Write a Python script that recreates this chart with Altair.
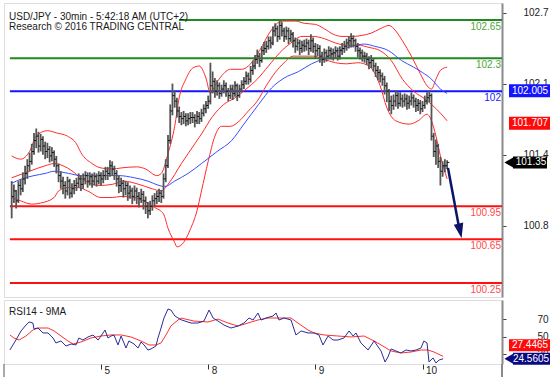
import altair as alt
import pandas as pd

# ---------------- data ----------------
close = [101.04,101.09,101.00,101.14,101.11, 101.20,101.25,101.32,101.36,101.45, 101.55,101.59,101.50,101.56,
         101.50,101.45,101.47,101.41,101.44, 101.38,101.32,101.23,101.18, 101.14,101.09,101.18,101.07,101.11,
         101.14,101.16,101.20,101.15, 101.20,101.23,101.18,101.22,101.18, 101.22,101.18,101.23,101.20,
         101.23,101.27,101.25,101.32,101.29, 101.25,101.20,101.14,101.16, 101.11,101.14,101.07,101.09,101.04,
         101.09,101.04,101.02,101.06, 101.00,100.95,100.91,100.95,101.00, 101.02,101.04,101.07,101.04,
         101.20,101.32, 101.55,101.82,101.96, 101.91,101.82,101.77, 101.75,101.77,101.73,101.75,101.76,
         101.76,101.73,101.77,101.75,101.80, 101.84,101.87,101.91,102.05, 102.09,102.00,102.05,101.98,102.02,
         102.05,102.00,101.96,102.02, 101.98,102.05,101.96,102.02,102.06, 102.09,102.14,102.11,102.19,
         102.23,102.29,102.32,102.28,102.37, 102.39,102.41,102.46,102.44, 102.55,102.57,102.50,102.60,102.55,
         102.50,102.55,102.48,102.52, 102.46,102.41,102.44,102.39,102.42, 102.41,102.44,102.39,102.46,
         102.41,102.37,102.39,102.32,102.29, 102.35,102.32,102.37,102.34, 102.35,102.37,102.32,102.37,102.39,
         102.41,102.44,102.46,102.48, 102.46,102.41,102.37,102.35,102.32, 102.32,102.29,102.26,102.28,
         102.23,102.19,102.17,102.14,102.11, 102.05,102.00,101.91,101.87, 101.91,101.96,101.89,101.93,101.91,
         101.93,101.89,101.91,101.94, 101.91,101.87,101.89,101.84,101.87, 101.91,101.94,101.96, 101.59,
         101.45,101.50,101.36, 101.27,101.32, 101.32,101.35]
high = [101.18,101.15,101.10,101.18,101.20, 101.26,101.32,101.38,101.44,101.52, 101.62,101.66,101.63,101.61,
        101.59,101.54,101.53,101.50,101.49, 101.46,101.41,101.34,101.27, 101.22,101.18,101.22,101.20,101.16,
        101.19,101.21,101.25,101.23, 101.25,101.27,101.26,101.26,101.25, 101.26,101.25,101.27,101.26,
        101.28,101.31,101.31,101.37,101.36, 101.32,101.28,101.23,101.21, 101.19,101.18,101.17,101.14,101.12,
        101.14,101.12,101.08,101.11, 101.09,101.04,100.99,101.00,101.05, 101.07,101.09,101.11,101.10,
        101.25,101.38, 101.60,101.88,102.07, 102.00,101.94,101.86, 101.81,101.82,101.80,101.80,101.81,
        101.81,101.79,101.82,101.81,101.84, 101.88,101.91,101.96,102.26, 102.18,102.12,102.10,102.08,102.06,
        102.10,102.08,102.03,102.06, 102.06,102.09,102.07,102.06,102.10, 102.13,102.18,102.17,102.23,
        102.28,102.33,102.38,102.35,102.41, 102.45,102.46,102.50,102.50, 102.59,102.62,102.60,102.64,102.63,
        102.58,102.59,102.58,102.56, 102.54,102.49,102.48,102.47,102.46, 102.47,102.48,102.47,102.52,
        102.49,102.44,102.43,102.42,102.36, 102.39,102.38,102.41,102.40, 102.39,102.41,102.40,102.41,102.44,
        102.46,102.48,102.50,102.53, 102.51,102.48,102.44,102.40,102.38, 102.36,102.35,102.32,102.33,
        102.30,102.26,102.23,102.20,102.17, 102.14,102.08,102.02,101.96, 101.97,102.01,101.99,101.99,101.97,
        101.98,101.97,101.96,101.99, 101.97,101.94,101.93,101.92,101.91, 101.96,101.99,102.01, 101.98,
        101.62,101.56,101.52, 101.40,101.36, 101.38,101.37]
low = [100.84,100.98,100.93,100.98,101.05, 101.08,101.15,101.20,101.27,101.33, 101.42,101.48,101.44,101.45,
       101.42,101.38,101.39,101.35,101.36, 101.31,101.25,101.17,101.11, 101.06,101.02,101.05,101.02,101.03,
       101.06,101.09,101.12,101.09, 101.11,101.15,101.12,101.14,101.12, 101.14,101.13,101.15,101.14,
       101.16,101.19,101.19,101.22,101.23, 101.19,101.13,101.07,101.08, 101.03,101.05,101.00,101.02,100.97,
       101.00,100.97,100.94,100.98, 100.92,100.88,100.84,100.87,100.91, 100.95,100.97,100.99,100.98,
       101.02,101.17, 101.30,101.52,101.78, 101.85,101.76,101.71, 101.69,101.70,101.68,101.69,101.70,
       101.71,101.67,101.70,101.70,101.72, 101.77,101.80,101.84,101.88, 101.98,101.94,101.96,101.93,101.95,
       101.98,101.95,101.91,101.93, 101.92,101.95,101.91,101.94,101.99, 102.02,102.06,102.06,102.08,
       102.15,102.20,102.25,102.22,102.26, 102.33,102.35,102.38,102.39, 102.42,102.50,102.45,102.47,102.50,
       102.45,102.47,102.43,102.45, 102.40,102.35,102.37,102.33,102.35, 102.36,102.37,102.33,102.36,
       102.35,102.30,102.32,102.26,102.23, 102.26,102.27,102.29,102.29, 102.28,102.30,102.28,102.29,102.33,
       102.35,102.37,102.39,102.40, 102.40,102.36,102.31,102.29,102.27, 102.26,102.24,102.20,102.21,
       102.18,102.13,102.10,102.08,102.05, 101.97,101.90,101.82,101.79, 101.83,101.86,101.84,101.86,101.85,
       101.86,101.83,101.84,101.87, 101.85,101.81,101.82,101.79,101.81, 101.84,101.88,101.90, 101.55,
       101.40,101.33,101.30, 101.14,101.22, 101.26,101.29]
first_bar_t = -40   # bars are half-hours; t = 0 is midnight of the 5th

ub_t = [-40,-36,-32,-29,-24,-20,-15,-11,-9,-4,0,5,9,16,20,25,27,30,33,35,38,41,44,47,49,51,54,58,63,67,
        71,76,79,82,87,91,96,100,104,108,113,117,121,125,129,132,135,139,143,146,148,150,152,155]
ub_p = [101.41,101.38,101.45,101.59,101.64,101.62,101.59,101.52,101.44,101.34,101.30,101.29,101.30,101.31,
        101.29,101.23,101.25,101.43,101.68,101.94,102.11,102.21,102.23,102.12,101.98,102.05,102.14,102.20,
        102.20,102.25,102.37,102.55,102.62,102.64,102.64,102.62,102.61,102.57,102.52,102.50,102.50,102.51,
        102.53,102.57,102.60,102.55,102.46,102.32,102.16,102.05,102.02,102.11,102.19,102.22]
mb_t = [-40,-32,-25,-21,-15,-7,-1,5,10,17,23,27,30,36,42,45,50,55,60,65,70,75,80,85,90,95,100,105,110,115,
        120,125,130,135,140,145,148,152,155]
mb_p = [101.21,101.27,101.32,101.34,101.30,101.18,101.14,101.15,101.18,101.15,101.11,101.09,101.15,101.34,
        101.52,101.61,101.77,101.88,101.94,102.02,102.11,102.23,102.35,102.44,102.50,102.50,102.48,102.44,
        102.42,102.42,102.40,102.37,102.28,102.11,102.00,101.93,101.88,101.80,101.73]
lb_t = [-40,-36,-31,-27,-21,-19,-15,-10,-6,0,5,9,15,19,24,28,30,33,34,37,40,43,45,48,51,54,58,62,66,70,
        74,78,82,86,90,95,100,105,110,115,120,125,128,132,138,142,146,148,150,152,155]
lb_p = [101.03,101.00,100.97,100.98,101.03,101.09,101.12,101.12,101.09,101.03,101.03,101.04,101.03,101.00,
        100.94,100.88,100.75,100.62,100.58,100.62,100.74,100.91,101.09,101.36,101.59,101.68,101.68,101.73,
        101.82,101.91,102.05,102.17,102.26,102.32,102.32,102.32,102.29,102.26,102.25,102.26,102.23,102.05,
        101.85,101.73,101.70,101.73,101.79,101.73,101.59,101.41,101.20]
ma_t = [-40,-35.5,-30,-25,-21,-14.5,-9,0,8,15,21,26,28.5,33,39,45,52,58.5,64,70.6,76.4,82,88.5,94.3,100,
        106.4,112.3,118,122.6,128.8,134.6,140,144,148,152,155]
ma_p = [101.16,101.20,101.23,101.25,101.27,101.25,101.23,101.23,101.23,101.21,101.18,101.14,101.13,101.18,
        101.25,101.34,101.45,101.55,101.70,101.88,102.03,102.12,102.18,102.25,102.30,102.37,102.41,102.43,
        102.41,102.37,102.28,102.22,102.17,102.11,102.02,101.98]

rsi_t = [-40.8,-38.1,-35.8,-33.6,-32.2,-30.5,-30.0,-28.2,-26.0,-23.7,-21.5,-20.2,-17.9,-15.7,-13.4,-11.2,
         -9.9,-8.1,-5.8,-3.6,-1.3,0,1.8,3.1,4.5,5.8,7.6,9.0,11.2,12.5,14.8,16.6,17.9,19.3,21.0,22.4,24.6,
         25.5,26.9,28.2,30.0,31.3,33.1,35.8,40.3,43.4,46.1,48.4,50.2,52.4,55.1,58.2,61.4,64.0,66.3,68.1,
         70.3,71.7,73.9,77.0,78.4,79.7,82.0,85.1,87.3,89.6,92.7,95.4,97.6,99.4,101.7,103.9,106.1,108.8,
         111.1,112.9,114.2,116.4,119.6,122.3,125.4,127.2,128.5,129.9,132.1,134.3,136.6,138.8,141.1,143.3,
         144.6,146.0,146.9,148.7,150.0,151.4,153.2]
rsi_v = [34.7,46.2,56.6,63.4,66.9,65.7,58.9,60.0,54.3,54.3,48.5,42.8,45.1,39.3,41.6,40.5,48.5,46.2,49.7,
         52.0,46.2,50.8,57.7,48.5,50.8,52.0,40.5,50.8,37.0,45.1,41.6,37.0,43.9,40.5,34.7,35.9,39.3,48.5,
         60.0,71.5,81.8,80.7,73.8,69.5,65.7,65.7,68.0,80.7,71.5,68.0,63.4,60.0,62.3,65.7,71.5,69.2,77.2,
         69.2,71.5,73.8,77.2,69.2,71.5,69.2,52.0,56.6,54.3,54.3,52.0,40.5,50.8,46.2,46.2,48.5,56.6,50.8,
         54.3,42.8,34.7,45.1,33.6,20.9,26.7,35.9,33.6,31.3,34.7,33.6,34.7,37.0,45.1,42.8,20.9,25.6,19.8,
         23.2,24.56]
rsima_t = [-40.8,-39.0,-36.7,-33.6,-30.5,-28.2,-23.7,-21.0,-17.9,-14.8,-12.5,-9.0,-4.5,0,4.5,9.0,13.4,17.9,
           21.5,24.6,26.9,29.1,31.3,34.5,35.8,41.6,47.9,52.4,56.9,61.4,65.8,70.3,74.8,80.6,85.1,88.2,92.7,
           95.4,99.9,106.1,112.0,117.8,122.3,125.4,129.9,134.3,138.8,143.3,146.4,149.1,153.2]
rsima_v = [52.0,48.5,46.2,50.8,57.7,60.0,60.0,56.6,50.8,45.1,41.6,43.9,48.5,50.8,52.0,52.0,49.7,45.1,40.5,
           40.5,42.8,52.0,62.3,69.2,71.5,68.0,66.9,70.3,65.7,62.3,65.7,69.2,71.5,71.5,71.5,65.7,57.7,54.3,
           52.0,50.8,49.7,50.8,45.1,40.5,33.6,31.3,32.4,34.7,34.7,32.4,27.45]

levels = [102.65, 102.3, 102.0, 100.95, 100.65, 100.25]
level_labels = ["102.65", "102.3", "102", "100.95", "100.65", "100.25"]
level_start = [34.9, -40.8, -40.8, -40.8, -40.8, -40.8]
level_colors = ["#1f8a1f", "#1f8a1f", "#1414ff", "#ff1010", "#ff1010", "#ff1010"]
level_text_colors = ["#4fa53a", "#4fa53a", "#2020ff", "#ff4a4a", "#ff4a4a", "#ff4a4a"]

arrow_t = [155.4, 160.6]
arrow_p = [101.30, 100.73]
arrow_head_t = [160.8]
arrow_head_p = [100.725]

price_boxes = [102.005, 101.707]
price_box_labels = ["102.005", "101.707"]
price_box_colors = ["#1414ff", "#ff0a0a"]
last_price = [101.35]
last_price_label = ["101.35"]
rsi_last = [27.4465, 24.5605]
rsi_last_labels = ["27.4465", "24.5605"]

day_ticks = [0, 48, 96, 144]
day_labels = ["5", "8", "9", "10"]
price_ticks = [102.715, 102.068, 101.421, 100.774]
rsi_ticks = [70, 50, 30]

title1 = "USD/JPY - 30min - 5:42:18 AM (UTC+2)"
title2 = "Research \u00a9 2016 TRADING CENTRAL"
rsi_title = "RSI14 - 9MA"

# ---------------- build ----------------
FONT = "Liberation Sans"
W, H1, H2 = 498, 294, 64
xs = alt.Scale(domain=[-43.44, 179.58], nice=False, zero=False)
ys = alt.Scale(domain=[100.1225, 102.805], nice=False, zero=False)
rs = alt.Scale(domain=[18.6, 92.2], nice=False, zero=False)

y_axis = alt.Axis(orient="right", values=price_ticks, labelExpr="format(datum.value, '.1f')",
                  tickSize=4, tickColor="#444", domainColor="#8a8a8a", domainWidth=2,
                  labelColor="#222", labelFontSize=10, labelFont=FONT, labelAlign="right",
                  labelPadding=42, labelBaseline="middle", grid=False, title=None)
r_axis = alt.Axis(orient="right", values=rsi_ticks, tickSize=4, tickColor="#444",
                  domainColor="#8a8a8a", domainWidth=2, labelColor="#222", labelFontSize=10,
                  labelFont=FONT, labelAlign="right", labelPadding=42, labelBaseline="middle",
                  grid=False, title=None)
expr = " : ".join(f"datum.value == {v} ? '{l}'" for v, l in zip(day_ticks[:-1], day_labels[:-1]))
expr += f" : '{day_labels[-1]}'"
x_axis = alt.Axis(orient="bottom", values=day_ticks, labelExpr=expr, tickSize=5, tickColor="#333",
                  domain=False, labelAlign="left", labelOffset=3, labelPadding=-4,
                  labelBaseline="top", labelFontSize=10, labelFont=FONT, labelColor="#222",
                  grid=False, title=None)

bars = pd.DataFrame({"close": close, "high": high, "low": low})
bars["t"] = bars.index + first_bar_t

def line_df(t, v):
    return pd.DataFrame({"t": t, "v": v})

X = lambda f="t": alt.X(f"{f}:Q", scale=xs, axis=None)
Y = lambda f: alt.Y(f"{f}:Q", scale=ys, axis=y_axis)

lev = pd.DataFrame({"level": levels, "label": level_labels, "start": level_start,
                    "c": level_colors, "tc": level_text_colors})
lev_rules = alt.Chart(lev).mark_rule(strokeWidth=2).encode(
    x=X("start"), x2=alt.value(W), y=Y("level"), color=alt.Color("c:N", scale=None))
lev_text = alt.Chart(lev).mark_text(align="right", baseline="top", dy=2, fontSize=10, font=FONT).encode(
    x=alt.value(497), y=Y("level"), text="label:N", color=alt.Color("tc:N", scale=None))

bar_rule = alt.Chart(bars).mark_rule(color="#555555", strokeWidth=1.8).encode(
    x=X(), y=Y("low"), y2="high:Q")
bar_close = alt.Chart(bars).mark_rule(color="#111111", strokeWidth=1, x2Offset=2.2).encode(
    x=X(), x2="t:Q", y=Y("close"))

def band(t, v, color):
    return alt.Chart(line_df(t, v)).mark_line(color=color, strokeWidth=1, interpolate="monotone").encode(
        x=X(), y=Y("v"))

ub = band(ub_t, ub_p, "#ff2a2a")
mb = band(mb_t, mb_p, "#ff2a2a")
lb = band(lb_t, lb_p, "#ff2a2a")
ma = band(ma_t, ma_p, "#3a4cff")

arrow_line = alt.Chart(line_df(arrow_t, arrow_p)).mark_line(color="#0c1466", strokeWidth=2.5).encode(
    x=X(), y=Y("v"))
arrow_head = alt.Chart(line_df(arrow_head_t, arrow_head_p)).mark_point(
    shape="M-0.45,-0.7L0.45,-0.7L0,0.7Z", filled=True, color="#0c1466", opacity=1,
    size=460, angle=348).encode(x=X(), y=Y("v"))

pb = pd.DataFrame({"v": price_boxes, "label": price_box_labels, "c": price_box_colors})
pb_rect = alt.Chart(pb).mark_rect(yOffset=-6.5, y2Offset=6.5).encode(
    x=alt.value(505), x2=alt.value(546), y=Y("v"), y2="v:Q", color=alt.Color("c:N", scale=None))
pb_text = alt.Chart(pb).mark_text(color="white", fontSize=10, font=FONT, align="center",
                                  baseline="middle").encode(x=alt.value(526), y=Y("v"), text="label:N")
lp = pd.DataFrame({"v": last_price, "label": last_price_label})
lp_rect = alt.Chart(lp).mark_rect(yOffset=-6, y2Offset=6, color="#000000").encode(
    x=alt.value(509), x2=alt.value(543), y=Y("v"), y2="v:Q")
lp_tri = alt.Chart(lp).mark_point(shape="triangle-left", filled=True, color="#000000", opacity=1,
                                  size=110).encode(x=alt.value(505), y=Y("v"))
lp_text = alt.Chart(lp).mark_text(color="white", fontSize=10, font=FONT, align="center",
                                  baseline="middle").encode(x=alt.value(527), y=Y("v"), text="label:N")

tdf = pd.DataFrame({"a": [title1], "b": [title2]})
t1 = alt.Chart(tdf).mark_text(align="left", fontSize=10, font=FONT, color="#1a1a1a").encode(
    x=alt.value(5), y=alt.value(14), text="a:N")
t2 = alt.Chart(tdf).mark_text(align="left", fontSize=10, font=FONT, color="#1a1a1a").encode(
    x=alt.value(5), y=alt.value(24), text="b:N")

main = alt.layer(lev_rules, lev_text, ub, mb, lb, ma, bar_rule, bar_close, arrow_line, arrow_head,
                 pb_rect, pb_text, lp_rect, lp_tri, lp_text, t1, t2).properties(width=W, height=H1)

# RSI panel
XR = lambda f="t": alt.X(f"{f}:Q", scale=xs, axis=x_axis)
YR = lambda f: alt.Y(f"{f}:Q", scale=rs, axis=r_axis)
rsi_line = alt.Chart(line_df(rsi_t, rsi_v)).mark_line(color="#2c2c98", strokeWidth=1).encode(
    x=XR(), y=YR("v"))
rsima_line = alt.Chart(line_df(rsima_t, rsima_v)).mark_line(color="#ff3030", strokeWidth=1).encode(
    x=XR(), y=YR("v"))
rb = pd.DataFrame({"v": rsi_last, "label": rsi_last_labels})
r_red = alt.Chart(rb.iloc[[0]]).mark_rect(yOffset=-17, y2Offset=-5, color="#ff0a0a").encode(
    x=alt.value(505), x2=alt.value(546), y=YR("v"), y2="v:Q")
r_red_t = alt.Chart(rb.iloc[[0]]).mark_text(color="white", fontSize=10, font=FONT, align="center",
                                            baseline="middle", dy=-11).encode(
    x=alt.value(526), y=YR("v"), text="label:N")
r_blue = alt.Chart(rb.iloc[[1]]).mark_rect(yOffset=-6, y2Offset=6, color="#0a0a80").encode(
    x=alt.value(509), x2=alt.value(546), y=YR("v"), y2="v:Q")
r_blue_tri = alt.Chart(rb.iloc[[1]]).mark_point(shape="triangle-left", filled=True, color="#0a0a80",
                                                opacity=1, size=110).encode(x=alt.value(505), y=YR("v"))
r_blue_t = alt.Chart(rb.iloc[[1]]).mark_text(color="white", fontSize=10, font=FONT, align="center",
                                             baseline="middle").encode(
    x=alt.value(527), y=YR("v"), text="label:N")
rt = alt.Chart(pd.DataFrame({"a": [rsi_title]})).mark_text(
    align="left", fontSize=10, font=FONT, color="#1a1a1a").encode(
    x=alt.value(5), y=alt.value(11.5), text="a:N")
frame_l = alt.Chart(pd.DataFrame({"a": [0]})).mark_rule(color="#555", strokeWidth=1).encode(
    x=alt.value(0), y=alt.value(H2), y2=alt.value(H2 + 17))
frame_r = alt.Chart(pd.DataFrame({"a": [0]})).mark_rule(color="#8a8a8a", strokeWidth=2).encode(
    x=alt.value(W), y=alt.value(H2), y2=alt.value(H2 + 17))

rsi = alt.layer(rsima_line, rsi_line, rt, frame_l, frame_r, r_red, r_red_t, r_blue, r_blue_tri,
                r_blue_t).properties(width=W, height=H2)

chart = alt.vconcat(main, rsi, spacing=1).properties(
    padding={"left": 3, "top": 2, "right": 0, "bottom": 0},
    background="white",
).configure_view(stroke="#666666", strokeWidth=1).configure(font=FONT)

chart.save("out.html", embed_options={"renderer": "svg", "actions": False})
